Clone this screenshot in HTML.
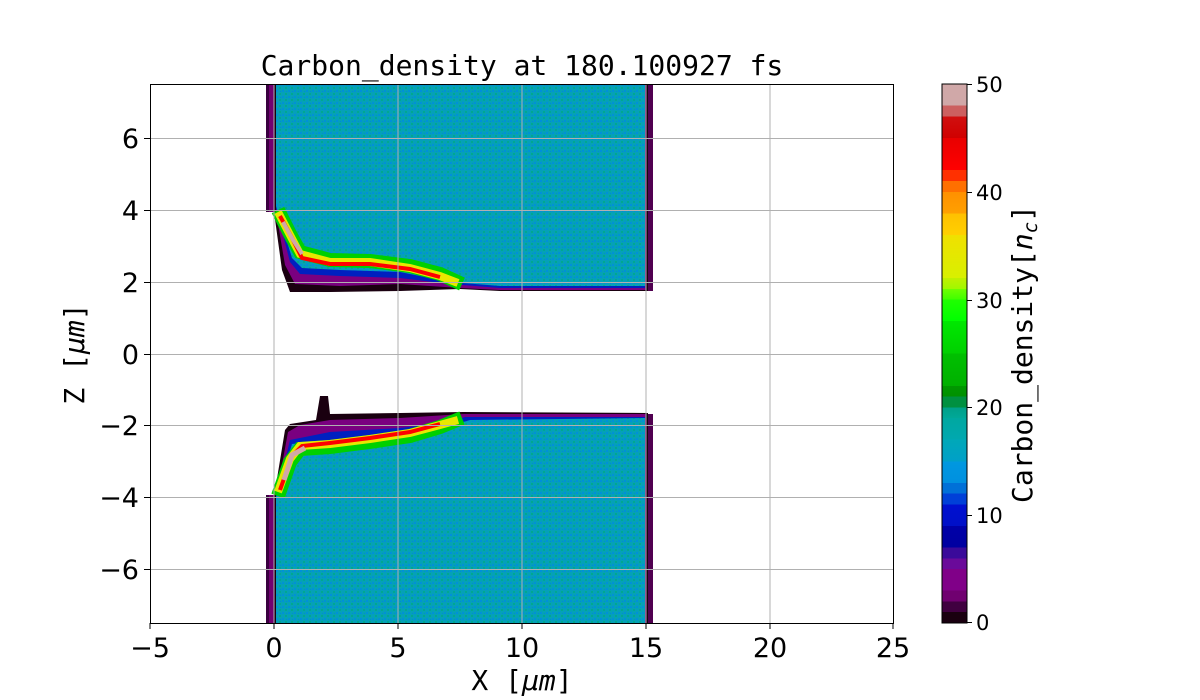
<!DOCTYPE html>
<html><head><meta charset="utf-8"><style>
html,body{margin:0;padding:0;background:#fff;}
svg{display:block;}
text{font-family:"DejaVu Sans","Liberation Sans",sans-serif;fill:#000;}
.m{font-family:"DejaVu Sans Mono","Liberation Mono",monospace;}
</style></head><body>
<svg width="1200" height="700" viewBox="0 0 1200 700" xmlns="http://www.w3.org/2000/svg">
<defs>
<linearGradient id="cb" x1="0" y1="1" x2="0" y2="0">
<stop offset="0" stop-color="#1a0010"/><stop offset="0.02" stop-color="#1a0010"/>
<stop offset="0.02" stop-color="#400040"/><stop offset="0.04" stop-color="#400040"/>
<stop offset="0.04" stop-color="#700070"/><stop offset="0.06" stop-color="#700070"/>
<stop offset="0.06" stop-color="#800088"/><stop offset="0.10" stop-color="#800088"/>
<stop offset="0.10" stop-color="#6a0a9a"/><stop offset="0.12" stop-color="#6a0a9a"/>
<stop offset="0.12" stop-color="#3a0a9a"/><stop offset="0.14" stop-color="#3a0a9a"/>
<stop offset="0.14" stop-color="#0000a0"/><stop offset="0.18" stop-color="#0000a8"/>
<stop offset="0.18" stop-color="#0010c8"/><stop offset="0.22" stop-color="#0010d0"/>
<stop offset="0.22" stop-color="#0040d8"/><stop offset="0.24" stop-color="#0040d8"/>
<stop offset="0.24" stop-color="#0070d8"/><stop offset="0.26" stop-color="#0070d8"/>
<stop offset="0.26" stop-color="#0090e0"/><stop offset="0.30" stop-color="#0098e0"/>
<stop offset="0.30" stop-color="#00a0c8"/><stop offset="0.34" stop-color="#00a8b8"/>
<stop offset="0.34" stop-color="#00a8b0"/><stop offset="0.38" stop-color="#00a8a0"/>
<stop offset="0.38" stop-color="#00a898"/><stop offset="0.40" stop-color="#00a088"/>
<stop offset="0.40" stop-color="#009040"/><stop offset="0.42" stop-color="#009040"/>
<stop offset="0.42" stop-color="#009000"/><stop offset="0.44" stop-color="#009800"/>
<stop offset="0.44" stop-color="#00b000"/><stop offset="0.50" stop-color="#00c000"/>
<stop offset="0.50" stop-color="#00d000"/><stop offset="0.56" stop-color="#00e800"/>
<stop offset="0.56" stop-color="#00ff00"/><stop offset="0.60" stop-color="#20ff00"/>
<stop offset="0.60" stop-color="#40ff00"/><stop offset="0.62" stop-color="#70ff00"/>
<stop offset="0.62" stop-color="#a0f800"/><stop offset="0.64" stop-color="#c0f000"/>
<stop offset="0.64" stop-color="#d8f000"/><stop offset="0.72" stop-color="#f0e000"/>
<stop offset="0.72" stop-color="#ffd000"/><stop offset="0.76" stop-color="#ffc000"/>
<stop offset="0.76" stop-color="#ffa000"/><stop offset="0.80" stop-color="#ff9000"/>
<stop offset="0.80" stop-color="#ff7000"/><stop offset="0.82" stop-color="#ff7000"/>
<stop offset="0.82" stop-color="#ff3000"/><stop offset="0.84" stop-color="#ff3000"/>
<stop offset="0.84" stop-color="#ff0000"/><stop offset="0.90" stop-color="#e80000"/>
<stop offset="0.90" stop-color="#d00000"/><stop offset="0.94" stop-color="#d01010"/>
<stop offset="0.94" stop-color="#cc6060"/><stop offset="0.96" stop-color="#cc6060"/>
<stop offset="0.96" stop-color="#d0a8a8"/><stop offset="1" stop-color="#d0a8a8"/>
</linearGradient>
<pattern id="nz" width="6" height="6" patternUnits="userSpaceOnUse">
<rect width="6" height="6" fill="#05a0b8"/>
<rect x="0" y="0" width="2" height="2" fill="#0090d8"/>
<rect x="3" y="3" width="2" height="2" fill="#00a890"/>
<rect x="4" y="1" width="1" height="1" fill="#0088d8"/>
</pattern>
</defs>

<!-- upper block -->
<rect x="266" y="84" width="10" height="128" fill="#3a0040"/>
<rect x="269" y="84" width="6" height="128" fill="#700070"/>
<rect x="645" y="84" width="8" height="207" fill="#500050"/>
<polygon points="274,212 282,270 290,292 330,292 400,291 460,289 500,291 648,291 648,84 274,84" fill="#1a0010"/>
<polygon points="276,212 285,265 295,284 340,286 400,284 460,288 500,290 646,290 646,84 276,84" fill="#7a0080"/>
<polygon points="276,208 290,262 300,274 340,276 400,278 450,284 500,288 645,288 645,84 276,84" fill="#0020c0"/>
<polygon points="276,206 292,258 302,268 340,270 400,272 450,282 500,286 645,286 645,84 276,84" fill="url(#nz)"/>
<polyline points="278,210 290,234 300,252 330,260 370,261 410,266 440,274 462,284" fill="none" stroke="#00d000" stroke-width="14"/>
<polyline points="278,212 290,235 300,254 330,262 370,262 410,268 440,276 458,283" fill="none" stroke="#e8e800" stroke-width="8"/>
<polyline points="280,216 292,238 302,258 330,264 370,264 410,269 440,277" fill="none" stroke="#ff0000" stroke-width="4"/>
<polyline points="283,222 293,240 302,254" fill="none" stroke="#d0a8a8" stroke-width="4"/>

<!-- lower block -->
<rect x="266" y="495" width="10" height="128" fill="#3a0040"/>
<rect x="269" y="495" width="6" height="128" fill="#700070"/>
<rect x="645" y="414" width="8" height="209" fill="#500050"/>
<polygon points="274,497 285,430 290,424 316,420 320,396 328,396 330,414 400,413 463,412 648,413 648,623 274,623" fill="#1a0010"/>
<polygon points="276,497 288,432 300,425 330,420 400,418 463,414 646,414 646,623 276,623" fill="#7a0080"/>
<polygon points="276,497 290,440 330,432 400,428 450,422 465,417 645,417 645,623 276,623" fill="#0020c0"/>
<polygon points="276,497 292,444 330,440 400,434 450,426 470,420 645,418 645,623 276,623" fill="url(#nz)"/>
<polyline points="278,496 290,462 300,449 330,447 370,442 410,436 440,427 462,418" fill="none" stroke="#00d000" stroke-width="14"/>
<polyline points="278,492 290,459 300,446 330,444 370,439 410,433 440,425 458,420" fill="none" stroke="#e8e800" stroke-width="8"/>
<polyline points="280,490 292,456 302,446 330,443 370,438 410,432 440,424" fill="none" stroke="#ff0000" stroke-width="4"/>
<polyline points="284,480 292,455 305,448" fill="none" stroke="#d0a8a8" stroke-width="5"/>

<!-- grid -->
<g stroke="#b0b0b0" stroke-width="1">
<line x1="274" y1="84" x2="274" y2="623"/><line x1="398" y1="84" x2="398" y2="623"/>
<line x1="522" y1="84" x2="522" y2="623"/><line x1="646" y1="84" x2="646" y2="623"/>
<line x1="770" y1="84" x2="770" y2="623"/>
<line x1="150" y1="138.5" x2="893" y2="138.5"/><line x1="150" y1="210.5" x2="893" y2="210.5"/>
<line x1="150" y1="282.5" x2="893" y2="282.5"/><line x1="150" y1="354.5" x2="893" y2="354.5"/>
<line x1="150" y1="425.5" x2="893" y2="425.5"/><line x1="150" y1="497.5" x2="893" y2="497.5"/>
<line x1="150" y1="569.5" x2="893" y2="569.5"/>
</g>
<rect x="150.5" y="84.5" width="743" height="539" fill="none" stroke="#000" stroke-width="1"/>
<g stroke="#000" stroke-width="1">
<line x1="150" y1="623" x2="150" y2="629"/><line x1="274" y1="623" x2="274" y2="629"/><line x1="398" y1="623" x2="398" y2="629"/><line x1="522" y1="623" x2="522" y2="629"/><line x1="646" y1="623" x2="646" y2="629"/><line x1="770" y1="623" x2="770" y2="629"/><line x1="893" y1="623" x2="893" y2="629"/>
<line x1="144" y1="138.5" x2="150" y2="138.5"/><line x1="144" y1="210.5" x2="150" y2="210.5"/><line x1="144" y1="282.5" x2="150" y2="282.5"/><line x1="144" y1="354.5" x2="150" y2="354.5"/><line x1="144" y1="425.5" x2="150" y2="425.5"/><line x1="144" y1="497.5" x2="150" y2="497.5"/><line x1="144" y1="569.5" x2="150" y2="569.5"/>
</g>
<g font-size="27" text-anchor="middle">
<text x="150" y="657">−5</text><text x="274" y="657">0</text><text x="398" y="657">5</text><text x="522" y="657">10</text><text x="646" y="657">15</text><text x="770" y="657">20</text><text x="893" y="657">25</text>
</g>
<g font-size="27" text-anchor="end">
<text x="139" y="148">6</text><text x="139" y="220">4</text><text x="139" y="292">2</text><text x="139" y="364">0</text><text x="139" y="435">−2</text><text x="139" y="507">−4</text><text x="139" y="579">−6</text>
</g>
<text class="m" x="522" y="75" font-size="28" text-anchor="middle">Carbon_density at 180.100927 fs</text>
<text class="m" x="522" y="690" font-size="28" text-anchor="middle">X [<tspan font-style="italic">μm</tspan>]</text>
<text class="m" transform="translate(84,354) rotate(-90)" font-size="28" text-anchor="middle">Z [<tspan font-style="italic">μm</tspan>]</text>

<!-- colorbar -->
<rect x="942" y="84" width="25" height="539" fill="url(#cb)" stroke="#000" stroke-width="1"/>
<g stroke="#000"><line x1="967" y1="84.5" x2="972" y2="84.5"/><line x1="967" y1="192.5" x2="972" y2="192.5"/><line x1="967" y1="300.5" x2="972" y2="300.5"/><line x1="967" y1="407.5" x2="972" y2="407.5"/><line x1="967" y1="515.5" x2="972" y2="515.5"/><line x1="967" y1="622.5" x2="972" y2="622.5"/></g>
<g font-size="21">
<text x="976" y="92">50</text><text x="976" y="200">40</text><text x="976" y="308">30</text><text x="976" y="415">20</text><text x="976" y="523">10</text><text x="976" y="630">0</text>
</g>
<text class="m" transform="translate(1032,354) rotate(-90)" font-size="28" text-anchor="middle">Carbon_density[<tspan font-style="italic">n</tspan><tspan font-style="italic" font-size="19" dy="5">c</tspan><tspan dy="-5">]</tspan></text>
</svg>
</body></html>
